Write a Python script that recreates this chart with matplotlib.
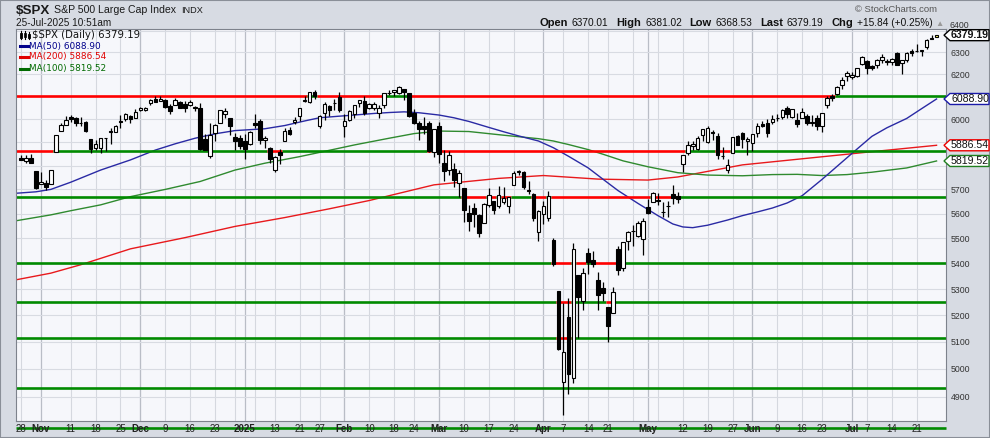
import numpy as np
import pandas as pd
import matplotlib
matplotlib.use('Agg')
import matplotlib.pyplot as plt
import matplotlib.transforms as mtransforms
from matplotlib.patches import Polygon, Rectangle
from matplotlib.lines import Line2D
from matplotlib.ticker import NullLocator

plt.rcParams['font.family'] = ['Liberation Sans', 'DejaVu Sans']

# ---- data ----
holidays = ['2024-11-28', '2024-12-25', '2025-01-01', '2025-01-09', '2025-01-20',
            '2025-02-17', '2025-04-18', '2025-05-26', '2025-06-19', '2025-07-04']

opens = [
    5833, 5819, 5833, 5775,  # Oct
    5723, 5725, 5722, 5857, 5947, 5976, 6008, 6003, 5985, 5989, 5912, 5874, 5874, 5917, 5944, 5944, 5992, 6000, 6015, 6003,
    6040, 6042, 6069, 6089, 6081, 6083, 6057, 6061, 6074, 6068, 6063, 6053, 6048, 5912, 5842, 5940, 5985, 6024, 6006, 5921, 5920,
    5904, 5892, 5982, 5993, 5910, 5876, 5782, 5859, 5907, 5951, 5986, 6015, 6082, 6076, 6121, 5970, 6027, 6057, 6069, 6097,
    5969, 5998, 6021, 6072, 6082, 6047, 6050, 6025, 6060, 6116, 6122, 6117, 6134, 6114, 6027, 5982, 5970, 5981, 5857,
    5968, 5812, 5782, 5786, 5726, 5705, 5604, 5624, 5594, 5563, 5635, 5654, 5632, 5646, 5630, 5719, 5772, 5772, 5696, 5679, 5527,
    5597, 5581, 5492, 5292, 4954, 5193, 4966, 5353, 5255, 5441, 5412, 5335, 5305, 5232, 5207, 5458, 5381, 5489, 5529, 5509, 5499,
    5626, 5646, 5655, 5606, 5632, 5680, 5671, 5807, 5855, 5885, 5869, 5929, 5902, 5945, 5927, 5841, 5781, 5854, 5925, 5939, 5903,
    5897, 5938, 5978, 5985, 5987, 6004, 6009, 6049, 6009, 5997, 6004, 6012, 5987, 6004, 5970, 6061, 6104, 6112, 6151, 6193,
    6187, 6193, 6247, 6259, 6238, 6241, 6266, 6255, 6256, 6296, 6253, 6264, 6308, 6304, 6307, 6326, 6368, 6370.01,
]
highs = [
    5843, 5847, 5851, 5775,
    5772, 5741, 5783, 5933, 5983, 6012, 6018, 6010, 6009, 5993, 5915, 5909, 5920, 5920, 5962, 5973, 6020, 6025, 6020, 6044,
    6053, 6052, 6089, 6100, 6100, 6088, 6065, 6092, 6079, 6078, 6085, 6057, 6070, 5935, 5982, 5978, 6040, 6049, 6007, 5941, 5929,
    5935, 5949, 6022, 6001, 5927, 5878, 5839, 5871, 5960, 5965, 6011, 6051, 6100, 6119, 6128, 6018, 6074, 6063, 6087, 6121,
    6022, 6042, 6062, 6084, 6101, 6073, 6076, 6064, 6116, 6127, 6130, 6147, 6134, 6115, 6044, 5992, 6010, 5994, 5959,
    5986, 5866, 5860, 5812, 5783, 5705, 5636, 5642, 5597, 5645, 5704, 5654, 5716, 5712, 5670, 5775, 5783, 5777, 5733, 5685, 5615,
    5651, 5695, 5500, 5293, 5247, 5267, 5481, 5353, 5381, 5460, 5450, 5367, 5328, 5233, 5309, 5469, 5486, 5528, 5553, 5572, 5581,
    5659, 5691, 5684, 5649, 5654, 5720, 5689, 5845, 5906, 5907, 5925, 5959, 5969, 5954, 5939, 5878, 5829, 5924, 5930, 5944, 5922,
    5937, 5981, 5990, 5999, 6016, 6021, 6043, 6059, 6045, 6026, 6050, 6024, 6018, 6018, 6028, 6101, 6109, 6146, 6187, 6215,
    6210, 6227, 6284, 6263, 6242, 6269, 6290, 6269, 6273, 6303, 6266, 6300, 6315, 6336, 6310, 6360, 6381, 6381.02,
]
lows = [
    5823, 5812, 5810, 5703,
    5723, 5696, 5722, 5857, 5947, 5976, 5986, 5970, 5971, 5946, 5853, 5866, 5854, 5861, 5891, 5944, 5963, 5992, 5984, 6003,
    6034, 6034, 6061, 6075, 6081, 6048, 6024, 6061, 6051, 6033, 6059, 6035, 5867, 5866, 5832, 5903, 5982, 6007, 5932, 5868, 5869,
    5829, 5888, 5960, 5890, 5874, 5809, 5774, 5805, 5907, 5930, 5978, 5993, 6076, 6071, 6089, 5962, 5997, 6012, 6040, 6030,
    5923, 5990, 6007, 6053, 6019, 6044, 6042, 6004, 6051, 6107, 6100, 6111, 6084, 6009, 5977, 5909, 5935, 5858, 5837,
    5810, 5733, 5762, 5711, 5667, 5565, 5529, 5546, 5505, 5563, 5628, 5598, 5622, 5641, 5604, 5719, 5760, 5703, 5682, 5572, 5488,
    5557, 5572, 5390, 5069, 4835, 4910, 4950, 5115, 5220, 5358, 5386, 5220, 5255, 5101, 5207, 5356, 5371, 5455, 5468, 5505, 5434,
    5597, 5646, 5637, 5587, 5585, 5640, 5645, 5773, 5845, 5868, 5865, 5907, 5895, 5909, 5830, 5826, 5768, 5854, 5886, 5874, 5843,
    5861, 5921, 5967, 5921, 5978, 5994, 6001, 6003, 6003, 5964, 6004, 5975, 5971, 5952, 5943, 6051, 6080, 6108, 6132, 6171,
    6178, 6189, 6241, 6201, 6218, 6227, 6250, 6243, 6244, 6242, 6201, 6256, 6285, 6303, 6281, 6317, 6360, 6368.53,
]
closes = [
    5823, 5832, 5813, 5705,
    5729, 5712, 5782, 5929, 5973, 5996, 6001, 5984, 5985, 5949, 5871, 5894, 5917, 5917, 5949, 5969, 5987, 6021, 5999, 6032,
    6047, 6050, 6086, 6075, 6090, 6053, 6035, 6084, 6051, 6051, 6074, 6051, 5872, 5867, 5931, 5974, 6040, 6037, 5971, 5907, 5882,
    5869, 5942, 5975, 5909, 5918, 5827, 5836, 5843, 5950, 5937, 5997, 6049, 6086, 6119, 6101, 6012, 6067, 6039, 6071, 6041,
    5994, 6037, 6061, 6083, 6026, 6066, 6068, 6051, 6115, 6115, 6129, 6144, 6118, 6013, 5983, 5956, 5956, 5861, 5955,
    5850, 5778, 5843, 5739, 5770, 5615, 5572, 5599, 5522, 5639, 5675, 5615, 5675, 5663, 5668, 5768, 5777, 5712, 5693, 5581, 5612,
    5633, 5671, 5397, 5074, 5062, 4983, 5457, 5268, 5363, 5406, 5397, 5276, 5283, 5158, 5288, 5376, 5485, 5525, 5529, 5561, 5569,
    5604, 5687, 5650, 5607, 5631, 5664, 5660, 5844, 5886, 5892, 5917, 5958, 5963, 5940, 5845, 5842, 5802, 5922, 5889, 5912, 5912,
    5936, 5970, 5971, 5939, 6000, 6006, 6039, 6023, 6045, 5977, 6033, 5983, 5981, 5968, 6025, 6092, 6092, 6141, 6173, 6205,
    6198, 6227, 6279, 6230, 6226, 6263, 6280, 6260, 6269, 6244, 6264, 6297, 6297, 6306, 6309, 6359, 6363, 6379.19,
]

# moving averages, read at sample days (trading-day index)
ma50_idx = [-1, 3, 6, 10, 16, 22, 27, 31, 35, 39, 43, 49, 53, 57, 60, 64, 67, 71, 74, 77, 80, 84, 87,
            90, 94, 97, 100, 104, 107, 110, 114, 117, 120, 124, 128, 131, 133, 135, 138, 142, 145, 148,
            151, 154, 157, 161, 165, 168, 171, 174, 178, 181, 184]
ma50 = [5684, 5690, 5700, 5730, 5781, 5824, 5866, 5893, 5917, 5936, 5950, 5958, 5972, 5992, 6006, 6013,
        6018, 6025, 6029, 6032, 6028, 6018, 6006, 5990, 5964, 5945, 5927, 5905, 5876, 5840, 5790, 5742,
        5695, 5642, 5592, 5558, 5546, 5543, 5553, 5574, 5592, 5607, 5623, 5644, 5674, 5742, 5815, 5870,
        5925, 5962, 6003, 6046, 6088.90]
ma100_idx = [-1, 6, 10, 16, 22, 29, 36, 43, 49, 56, 60, 67, 74, 79, 84, 90, 97, 104, 107, 110, 114,
             117, 121, 126, 132, 138, 145, 151, 156, 161, 166, 171, 178, 184]
ma100 = [5571, 5595, 5612, 5636, 5670, 5700, 5733, 5781, 5810, 5838, 5856, 5888, 5917, 5937, 5948, 5946,
         5930, 5915, 5905, 5890, 5868, 5848, 5820, 5795, 5770, 5760, 5757, 5762, 5763, 5758, 5762, 5772,
         5790, 5819.52]
ma200_idx = [-1, 6, 12, 22, 33, 43, 53, 62, 70, 83, 96, 105, 116, 126, 132, 145, 158, 171, 184]
ma200 = [5336, 5362, 5395, 5458, 5503, 5548, 5584, 5620, 5654, 5719, 5746, 5758, 5743, 5739, 5752,
         5803, 5831, 5859, 5886.54]

levels = [6100, 5862, 5669, 5400, 5250, 5115, 4930, 4790]

tick_dates = ['2024-10-28', '2024-11-01', '2024-11-11', '2024-11-18', '2024-11-25', '2024-12-02',
              '2024-12-09', '2024-12-16', '2024-12-23', '2025-01-02', '2025-01-13', '2025-01-21',
              '2025-01-27', '2025-02-03', '2025-02-10', '2025-02-18', '2025-02-24', '2025-03-03',
              '2025-03-10', '2025-03-17', '2025-03-24', '2025-04-01', '2025-04-07', '2025-04-14',
              '2025-04-21', '2025-05-01', '2025-05-12', '2025-05-19', '2025-05-27', '2025-06-02',
              '2025-06-09', '2025-06-16', '2025-06-23', '2025-07-01', '2025-07-07', '2025-07-14',
              '2025-07-21']
tick_text = ['28', 'Nov', '11', '18', '25', 'Dec', '9', '16', '23', '2025', '13', '21', '27', 'Feb',
             '10', '18', '24', 'Mar', '10', '17', '24', 'Apr', '7', '14', '21', 'May', '12', '19', '27',
             'Jun', '9', '16', '23', 'Jul', '7', '14', '21']
grid_prices = list(range(4900, 6401, 100))
# labels hidden behind the price tags in the original are left out
label_prices = [4900, 5000, 5100, 5200, 5300, 5400, 5500, 5600, 5700, 6000, 6200, 6300]

dates = pd.bdate_range('2024-10-28', '2025-07-25', freq='C', holidays=holidays)
assert len(dates) == len(opens) == len(highs) == len(lows) == len(closes)
n = len(dates)
idx = np.arange(n)
o, h, l, c = map(np.array, (opens, highs, lows, closes))

W, H = 990, 438
fig = plt.figure(figsize=(W / 100, H / 100), dpi=100, facecolor='#d7dbe3')
ax = fig.add_axes([16 / W, (H - 421) / H, 930 / W, 392 / H], facecolor='#f6f7fb')
ax.set_yscale('log')
XMIN, XMAX = -1.0, 185.9
YMIN, YMAX = 4813.5, 6408
ax.set_xlim(XMIN, XMAX)
ax.set_ylim(YMIN, YMAX)


def fx(x):
    return x / W


def fy(y):
    return 1 - y / H


# grid
month_starts = [i for i in range(1, n) if dates[i].month != dates[i - 1].month]
week_starts = [i for i in range(n) if i == 0 or
               dates[i].isocalendar()[1] != dates[i - 1].isocalendar()[1]]
for i in week_starts:
    if any(abs(i - m) <= 1 and i != m for m in month_starts):
        continue
    ax.axvline(i, color='#d5d8df', lw=0.8, zorder=0.5)
for i in month_starts:
    ax.axvline(i, color='#b9bdc6', lw=0.9, zorder=0.5)
for p in grid_prices:
    ax.axhline(p, color='#d8dbe2', lw=0.8, zorder=0.5)

# moving averages
ax.plot(ma200_idx, ma200, color='#e8191c', lw=1.0, zorder=2)
ax.plot(ma100_idx, ma100, color='#2f8a2f', lw=1.0, zorder=2)
ax.plot(ma50_idx, ma50, color='#2a2aa4', lw=1.0, zorder=2)

# horizontal levels: green where the close is above, red where below
for lev in levels:
    above = c > lev
    start = 0
    for i in range(1, n + 1):
        if i == n or above[i] != above[start]:
            x0 = XMIN if start == 0 else start - 0.5
            x1 = XMAX if i == n else i - 0.5
            ax.plot([x0, x1], [lev, lev], color='#008a00' if above[start] else '#ff0000',
                    lw=1.9, solid_capstyle='butt', zorder=2.5, clip_on=(lev > YMIN))
            start = i

# candles
ax.vlines(idx, l, h, color='black', lw=0.9, zorder=3)
bot = np.minimum(o, c)
top = np.maximum(o, c)
face = np.where(c >= o, 'white', 'black').astype(object)
face[-1] = '#ffff70'
ax.bar(idx, top - bot, bottom=bot, width=0.72, color=list(face), edgecolor='black',
       linewidth=0.8, zorder=4)

# axes cosmetics
ax.set_xticks([])
ax.yaxis.set_minor_locator(NullLocator())
ax.set_yticks(label_prices)
ax.set_yticklabels([str(p) for p in label_prices])
ax.yaxis.tick_right()
ax.tick_params(axis='y', which='both', length=0, pad=3.5, labelsize=6.3, labelcolor='#333333')
for s in ax.spines.values():
    s.set_color('#7d828c')
    s.set_linewidth(0.8)
fig.text(fx(950), fy(25.5), '6400', fontsize=6.3, color='#333333', va='center')

trans = mtransforms.blended_transform_factory(ax.transData, ax.transAxes)
for d, t in zip(tick_dates, tick_text):
    i = dates.get_loc(pd.Timestamp(d))
    bold = not t.isdigit() or t == '2025'
    ax.text(i, -8 / 392, t, transform=trans, ha='center', va='center', fontsize=7,
            fontweight='bold' if bold else 'normal', color='#222222', clip_on=False, zorder=6)


# price tags on the right
def tag(price, text, edge, bold=False):
    y = ax.transData.transform((0, price))[1]
    hh = 5.5
    pts = [(944, y), (950, y + hh), (989, y + hh), (989, y - hh), (950, y - hh)]
    fig.add_artist(Polygon([(px / W, py / H) for px, py in pts], closed=True,
                           transform=fig.transFigure, facecolor='white', edgecolor=edge,
                           lw=1.0, zorder=5))
    fig.text(fx(951), y / H, text, ha='left', va='center', fontsize=7.6,
             fontweight='bold' if bold else 'normal', color='#111111', zorder=6)


tag(closes[-1], '6379.19', 'black', bold=True)
tag(ma50[-1], '6088.90', '#1a1aa8')
tag(ma200[-1], '5886.54', '#ee0000')
tag(ma100[-1], '5819.52', '#1f7f1f')

# legend inside chart
fig.add_artist(Line2D([fx(21), fx(21)], [fy(31), fy(39)], color='black', lw=0.8))
fig.add_artist(Rectangle((fx(20), fy(38)), 2 / W, 5 / H, transform=fig.transFigure,
                         facecolor='black', edgecolor='black', lw=0.6))
fig.add_artist(Line2D([fx(25), fx(25)], [fy(31), fy(39)], color='black', lw=0.8))
fig.add_artist(Rectangle((fx(24), fy(37)), 2 / W, 4 / H, transform=fig.transFigure,
                         facecolor='white', edgecolor='black', lw=0.6))
fig.add_artist(Line2D([fx(29), fx(29)], [fy(32), fy(39)], color='black', lw=0.8))
fig.add_artist(Rectangle((fx(28), fy(38)), 2 / W, 4 / H, transform=fig.transFigure,
                         facecolor='black', edgecolor='black', lw=0.6))
fig.text(fx(32), fy(35), '$SPX (Daily) 6379.19', family='DejaVu Sans', fontsize=7.3,
         va='center', color='#111111')
for yy, txt, col in [(46, 'MA(50) 6088.90', '#00008b'), (57, 'MA(200) 5886.54', '#e00000'),
                     (68.5, 'MA(100) 5819.52', '#006a00')]:
    fig.add_artist(Line2D([fx(19.5), fx(28)], [fy(yy), fy(yy)], color=col, lw=2.2))
    fig.text(fx(29), fy(yy), txt, family='DejaVu Sans', fontsize=6.4, va='center', color=col)

# header
fig.text(fx(16), fy(13.5), '$SPX', fontsize=9.6, fontweight='bold', color='#1a1a1a', va='baseline')
fig.text(fx(54), fy(13), 'S&P 500 Large Cap Index', fontsize=7.6, color='#1a1a1a', va='baseline')
fig.text(fx(181), fy(13), 'INDX', fontsize=6.6, color='#1a1a1a', va='baseline')
fig.text(fx(16), fy(26), '25-Jul-2025 10:51am', fontsize=7.2, color='#1a1a1a', va='baseline')
fig.text(fx(937), fy(11.5), '\u00a9 StockCharts.com', fontsize=6.8, color='#555555',
         ha='right', va='baseline')

r = fig.canvas.get_renderer()
x = 540
parts = [('Open', True), ('6370.01', False), ('High', True), ('6381.02', False),
         ('Low', True), ('6368.53', False), ('Last', True), ('6379.19', False),
         ('Chg', True), ('+15.84 (+0.25%)', False)]
for s, b in parts:
    t = fig.text(fx(x), fy(26.5), s, fontsize=8 if b else 7.3,
                 fontweight='bold' if b else 'normal', color='#111111', va='baseline')
    x += t.get_window_extent(r).width + (3.5 if b else 8)
fig.text(fx(x - 5), fy(26.5), '\u25b2', fontsize=6, color='#9a9a9a', va='baseline')

fig.add_artist(Rectangle((0, 0), 1, 1, transform=fig.transFigure, fill=False,
                         edgecolor='#8a8f98', lw=1.5))

fig.savefig('out.png', dpi=100, facecolor=fig.get_facecolor())
